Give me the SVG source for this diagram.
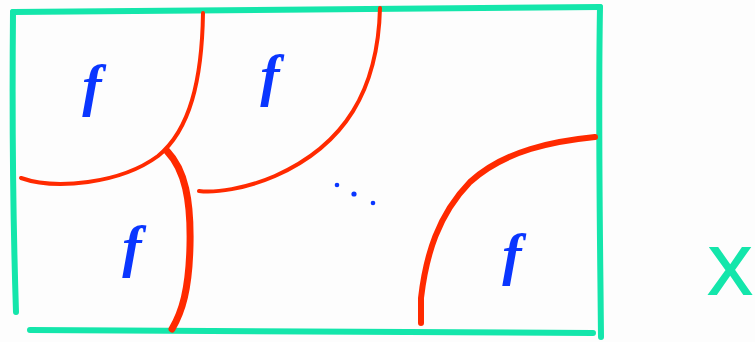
<svg xmlns="http://www.w3.org/2000/svg" width="755" height="342" viewBox="0 0 755 342">
  <style>
    .frame { fill: none; stroke: #14e6ab; stroke-width: 6; stroke-linecap: round; stroke-linejoin: round; }
    .cut { fill: none; stroke: #ff2a00; stroke-linecap: round; stroke-linejoin: round; }
    .f { font-family: "Liberation Serif", serif; font-style: italic; font-weight: bold; font-size: 58px; fill: #0a36ff; text-anchor: middle; }
    .dot { fill: #0a36ff; }
    .xlabel { font-family: "Liberation Sans", sans-serif; font-size: 66px; fill: #14e6ab; stroke: #14e6ab; stroke-width: 2; }
  </style>
  <rect width="755" height="342" fill="#fdfdfd"/>
  <g id="frame">
    <path class="frame" d="M13,12 L600,7"/>
    <path class="frame" d="M13,12 C12,120 13,220 16,312"/>
    <path class="frame" d="M30,330 L593,333"/>
    <path class="frame" d="M600,7 C598,120 600,230 601,337"/>
  </g>
  <g id="connectors">
    <path class="cut" stroke-width="4" d="M203,13 C202,80 190,130 158,156 C120,184 55,190 21,178"/>
    <path class="cut" stroke-width="4" d="M380,8 C378,90 345,145 275,176 C245,189 215,193 199,191"/>
    <path class="cut" stroke-width="7" d="M167,151 C185,170 191,200 190,245 C189,290 182,312 172,329"/>
    <path class="cut" stroke-width="6" d="M421,323 L421,298 C426,255 438,215 470,182 C505,150 555,141 595,137"/>
  </g>
  <g id="region1"><text class="f" x="92" y="105">f</text></g>
  <g id="region2"><text class="f" x="270" y="95">f</text></g>
  <g id="region3"><text class="f" x="132" y="266">f</text></g>
  <g id="region4"><text class="f" x="512" y="274">f</text></g>
  <g id="ellipsis">
    <circle class="dot" cx="337" cy="185" r="2.3"/>
    <circle class="dot" cx="354" cy="194" r="2.6"/>
    <circle class="dot" cx="373" cy="203" r="2.3"/>
  </g>
  <g id="label-x"><text class="xlabel" x="708" y="294">X</text></g>
</svg>
